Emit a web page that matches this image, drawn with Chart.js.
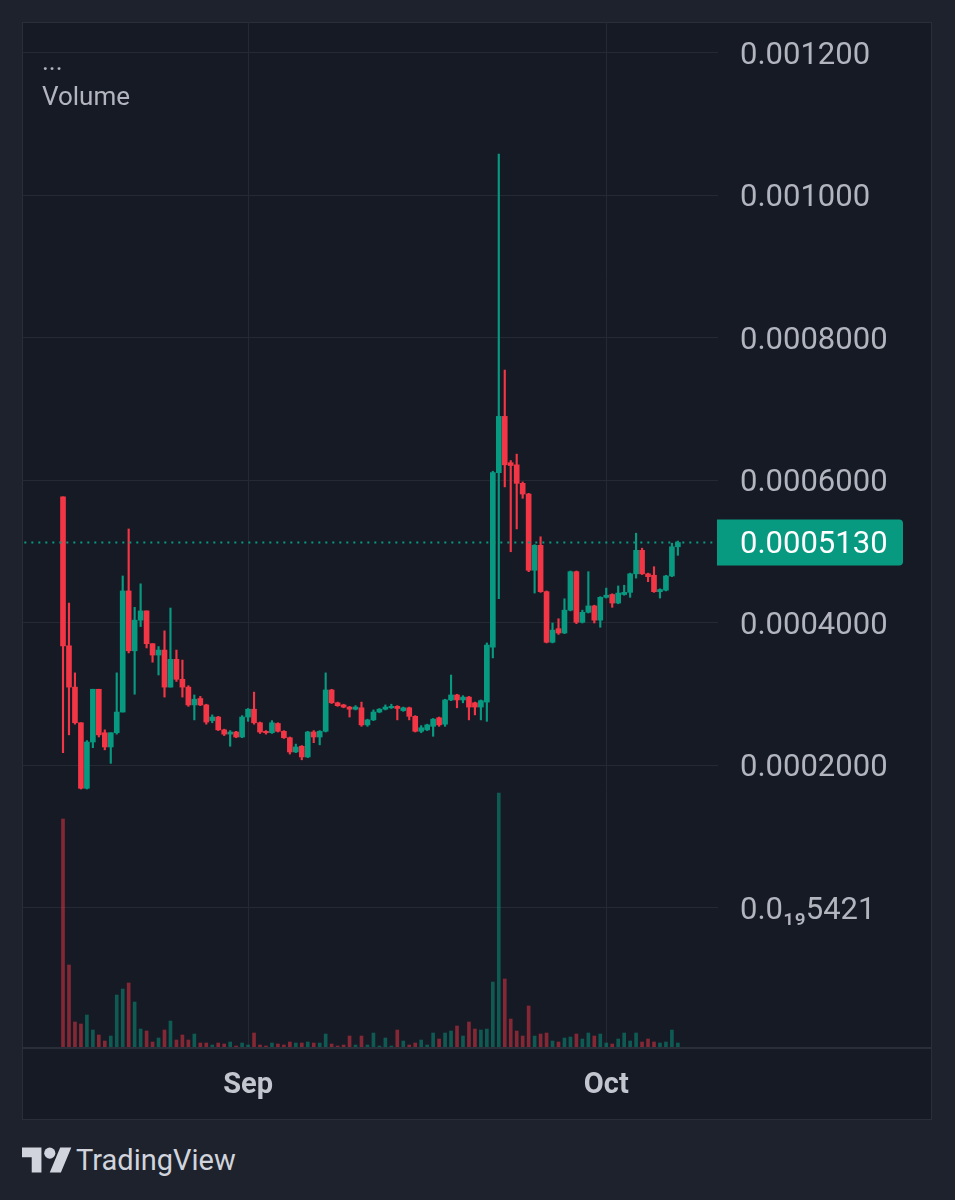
<!DOCTYPE html>
<html>
<head>
<meta charset="utf-8">
<title>Volume</title>
<script src="https://cdn.jsdelivr.net/npm/chart.js@4.4.1/dist/chart.umd.min.js"></script>
<style>
  html, body { margin: 0; padding: 0; }
  body { width: 955px; height: 1200px; background: #1e222d; position: relative; overflow: hidden; font-family: Roboto, 'Noto Sans', sans-serif; }
  #panel { position: absolute; left: 22px; top: 22px; width: 910px; height: 1098px; box-sizing: border-box; border: 1px solid #2a2e39; background: #161a25; }
  #chart-wrap { position: absolute; left: 22px; top: 22px; width: 910px; height: 1098px; }
  #sep-line { position: absolute; left: 22px; top: 1047px; width: 910px; height: 2px; background: #2a2e39; }
  #legend { position: absolute; left: 42px; top: 44px; color: #b2b5be; font-size: 26px; line-height: 35px; }
  #brand { position: absolute; left: 22px; top: 1140px; height: 40px; color: #d1d4dc; }
  #brand svg { position: absolute; left: 0; top: 2px; }
  #brand span { position: absolute; left: 54px; top: 0; font-size: 29px; line-height: 40px; white-space: nowrap; }
</style>
</head>
<body>
<div id="panel"></div>
<div id="chart-wrap"><canvas id="myChart" width="910" height="1098"></canvas></div>
<div id="sep-line"></div>
<div id="legend"><div>...</div><div>Volume</div></div>
<div id="brand">
  <svg width="50" height="39" viewBox="0 0 36 28"><path fill="#d1d4dc" d="M14 22H7V11H0V4h14v18zM28 22h-8l7.5-18h8L28 22z"/><circle fill="#d1d4dc" cx="20" cy="8" r="4"/></svg>
  <span>TradingView</span>
</div>

<script>
'use strict';

// Data (12h candles, index 0 = Aug 16 12:00)

let opens = [0.000577, 0.000368, 0.000310, 0.000260, 0.000168, 0.000233, 0.000307, 0.000246, 0.000226, 0.000246,
  0.000275, 0.000445, 0.000361, 0.000404, 0.000417, 0.000371, 0.000355, 0.000362, 0.000310, 0.000349,
  0.000321, 0.000310, 0.000285, 0.000294, 0.000285, 0.000263, 0.000268, 0.000250, 0.000244, 0.000247,
  0.000240, 0.000268, 0.000279, 0.000260, 0.000248, 0.000246, 0.000259, 0.000248, 0.000239, 0.000219,
  0.000227, 0.000212, 0.000247, 0.000240, 0.000248, 0.000306, 0.000288, 0.000285, 0.000282, 0.000279,
  0.000281, 0.000257, 0.000264, 0.000275, 0.000279, 0.000281, 0.000283, 0.000277, 0.000281, 0.000269,
  0.000248, 0.000250, 0.000255, 0.000267, 0.000258, 0.000292, 0.000299, 0.000292, 0.000296, 0.000288,
  0.000282, 0.000289, 0.000366, 0.000611, 0.000690, 0.000625, 0.000622, 0.000596, 0.000581, 0.000474,
  0.000509, 0.000444, 0.000373, 0.000392, 0.000386, 0.000418, 0.000472, 0.000401, 0.000415, 0.000424,
  0.000404, 0.000436, 0.000440, 0.000428, 0.000440, 0.000443, 0.000469, 0.000502, 0.000469, 0.000467,
  0.000444, 0.000446, 0.000466, 0.000507];

let highs = [0.000577, 0.000428, 0.000330, 0.000260, 0.000235, 0.000307, 0.000307, 0.000250, 0.000246, 0.000330,
  0.000466, 0.000532, 0.000422, 0.000455, 0.000417, 0.000371, 0.000367, 0.000389, 0.000421, 0.000362,
  0.000348, 0.000312, 0.000299, 0.000297, 0.000286, 0.000271, 0.000269, 0.000251, 0.000249, 0.000248,
  0.000270, 0.000280, 0.000303, 0.000261, 0.000249, 0.000263, 0.000260, 0.000249, 0.000240, 0.000230,
  0.000228, 0.000248, 0.000249, 0.000249, 0.000330, 0.000307, 0.000289, 0.000286, 0.000283, 0.000284,
  0.000289, 0.000265, 0.000278, 0.000280, 0.000285, 0.000286, 0.000284, 0.000282, 0.000282, 0.000270,
  0.000256, 0.000258, 0.000266, 0.000268, 0.000293, 0.000327, 0.000300, 0.000298, 0.000297, 0.000289,
  0.000292, 0.000372, 0.000613, 0.001058, 0.000755, 0.000628, 0.000637, 0.000598, 0.000582, 0.000510,
  0.000521, 0.000445, 0.000400, 0.000406, 0.000434, 0.000473, 0.000473, 0.000418, 0.000472, 0.000425,
  0.000437, 0.000449, 0.000441, 0.000452, 0.000453, 0.000470, 0.000526, 0.000505, 0.000470, 0.000479,
  0.000448, 0.000467, 0.000512, 0.000515];

let lows = [0.000218, 0.000243, 0.000258, 0.000167, 0.000167, 0.000225, 0.000240, 0.000222, 0.000203, 0.000244,
  0.000275, 0.000358, 0.000300, 0.000395, 0.000365, 0.000345, 0.000327, 0.000296, 0.000310, 0.000318,
  0.000296, 0.000283, 0.000264, 0.000284, 0.000258, 0.000260, 0.000249, 0.000242, 0.000227, 0.000239,
  0.000239, 0.000262, 0.000258, 0.000245, 0.000244, 0.000245, 0.000247, 0.000238, 0.000216, 0.000218,
  0.000208, 0.000211, 0.000232, 0.000229, 0.000247, 0.000287, 0.000283, 0.000281, 0.000268, 0.000278,
  0.000255, 0.000255, 0.000263, 0.000274, 0.000278, 0.000280, 0.000264, 0.000276, 0.000264, 0.000247,
  0.000246, 0.000249, 0.000241, 0.000255, 0.000255, 0.000291, 0.000281, 0.000288, 0.000264, 0.000271,
  0.000264, 0.000262, 0.000351, 0.000434, 0.000591, 0.000500, 0.000532, 0.000575, 0.000472, 0.000442,
  0.000443, 0.000372, 0.000372, 0.000384, 0.000385, 0.000417, 0.000399, 0.000400, 0.000414, 0.000400,
  0.000394, 0.000435, 0.000422, 0.000427, 0.000439, 0.000436, 0.000463, 0.000468, 0.000458, 0.000443,
  0.000435, 0.000445, 0.000465, 0.000495];

let closes = [0.000368, 0.000310, 0.000260, 0.000168, 0.000233, 0.000307, 0.000243, 0.000226, 0.000246, 0.000275,
  0.000445, 0.000361, 0.000404, 0.000417, 0.000371, 0.000355, 0.000362, 0.000310, 0.000349, 0.000321,
  0.000310, 0.000285, 0.000293, 0.000285, 0.000261, 0.000268, 0.000250, 0.000244, 0.000247, 0.000240,
  0.000268, 0.000279, 0.000260, 0.000247, 0.000246, 0.000260, 0.000248, 0.000239, 0.000219, 0.000226,
  0.000212, 0.000247, 0.000240, 0.000248, 0.000306, 0.000288, 0.000284, 0.000282, 0.000279, 0.000282,
  0.000257, 0.000264, 0.000275, 0.000279, 0.000282, 0.000283, 0.000280, 0.000281, 0.000269, 0.000248,
  0.000253, 0.000257, 0.000265, 0.000257, 0.000292, 0.000299, 0.000292, 0.000296, 0.000282, 0.000282,
  0.000291, 0.000369, 0.000611, 0.000690, 0.000622, 0.000621, 0.000596, 0.000581, 0.000474, 0.000509,
  0.000444, 0.000373, 0.000390, 0.000386, 0.000418, 0.000472, 0.000401, 0.000415, 0.000424, 0.000404,
  0.000436, 0.000439, 0.000428, 0.000442, 0.000443, 0.000469, 0.000502, 0.000469, 0.000465, 0.000444,
  0.000447, 0.000466, 0.000507, 0.000513];

// relative volume per candle
let volumes = [229, 83, 26, 24, 33, 18, 13, 7, 12, 53,
  59, 65, 46, 19, 17, 6, 10, 18, 27, 8,
  13, 8, 14, 5, 5, 3, 5, 4, 6, 2,
  5, 3, 15, 3, 2, 5, 4, 3, 6, 5,
  5, 6, 5, 5, 14, 4, 2, 3, 12, 3,
  12, 3, 15, 2, 10, 2, 18, 7, 3, 5,
  8, 3, 15, 9, 15, 17, 22, 12, 26, 19,
  18, 19, 66, 255, 69, 29, 17, 12, 42, 12,
  14, 15, 7, 6, 10, 11, 14, 9, 15, 12,
  14, 5, 4, 9, 15, 7, 15, 6, 9, 6,
  5, 6, 18, 5];

let priceTicks = [0, 0.0002, 0.0004, 0.0006, 0.0008, 0.001, 0.0012];
let timeTickIdx = [31, 91];
let timeTickLabels = ['Sep', 'Oct'];

// Colors

const upColor = '#089981';
const downColor = '#f23645';
const upVolColor = 'rgba(8, 153, 129, 0.5)';
const downVolColor = 'rgba(242, 54, 69, 0.5)';
const gridColor = '#252934';

//Helper Functions

function candleColors(up, down) {
  let colors = [];
  for (let i = 0; i < closes.length; i++) {
    colors.push(closes[i] >= opens[i] ? up : down);
  }
  return colors;
}

function formatPrice(value) {
  if (value === 0) {
    return '0.0\u2081\u20895421';
  }
  if (value >= 0.001) {
    return value.toFixed(6);
  }
  return value.toFixed(7);
}

let wickData = [];
let bodyData = [];
let volData = [];
for (let i = 0; i < closes.length; i++) {
  wickData.push({ x: i, y: [lows[i], highs[i]] });
  bodyData.push({ x: i, y: [opens[i], closes[i]] });
  volData.push({ x: i, y: volumes[i] });
}

let lastClose = closes[closes.length - 1];

// green tag with the last price on the price axis
const lastPriceTag = {
  id: 'lastPriceTag',
  afterDraw(chart) {
    let ctx = chart.ctx;
    let py = chart.scales.y.getPixelForValue(lastClose);
    let left = chart.chartArea.right - 1;
    ctx.save();
    ctx.fillStyle = upColor;
    ctx.beginPath();
    if (ctx.roundRect) {
      ctx.roundRect(left, py - 23, 186, 46, [0, 4, 4, 0]);
    } else {
      ctx.rect(left, py - 23, 186, 46);
    }
    ctx.fill();
    ctx.fillStyle = '#ffffff';
    ctx.font = '31px Roboto';
    ctx.textBaseline = 'middle';
    ctx.fillText(formatPrice(lastClose), chart.chartArea.right + 22, py + 3);
    ctx.restore();
  }
};

Chart.defaults.font.family = 'Roboto';

let ctx = document.getElementById('myChart').getContext('2d');
const myChart = new Chart(ctx, {
  type: 'bar',
  data: {
    datasets: [
      {
        type: 'line',
        data: [{ x: -10, y: lastClose }, { x: 120, y: lastClose }],
        borderColor: upColor,
        borderWidth: 2,
        borderDash: [2, 5],
        pointRadius: 0,
        order: 0
      },
      {
        label: 'wick',
        data: wickData,
        backgroundColor: candleColors(upColor, downColor),
        barThickness: 1.5,
        grouped: false,
        order: 2
      },
      {
        label: 'body',
        data: bodyData,
        backgroundColor: candleColors(upColor, downColor),
        barThickness: 5,
        grouped: false,
        order: 1
      },
      {
        label: 'Volume',
        data: volData,
        yAxisID: 'y2',
        backgroundColor: candleColors(upVolColor, downVolColor),
        barThickness: 3,
        grouped: false,
        order: 3
      }
    ]
  },
  options: {
    responsive: false,
    animation: false,
    devicePixelRatio: 1,
    layout: { padding: 0 },
    plugins: {
      legend: { display: false },
      tooltip: { enabled: false }
    },
    scales: {
      x: {
        type: 'linear',
        offset: false,
        min: -6.87,
        max: 109.72,
        afterBuildTicks: function(axis) {
          axis.ticks = timeTickIdx.map(v => ({ value: v }));
        },
        afterFit: function(axis) {
          axis.height = 72;
          axis.paddingLeft = 0;
          axis.paddingRight = 0;
        },
        grid: { color: gridColor, drawTicks: false, offset: false },
        border: { display: false },
        ticks: {
          autoSkip: false,
          maxRotation: 0,
          padding: 20,
          color: '#c3c6ce',
          font: { size: 29, weight: 'bold' },
          callback: function(value) {
            let k = timeTickIdx.indexOf(value);
            return k >= 0 ? timeTickLabels[k] : '';
          }
        }
      },
      y: {
        position: 'right',
        min: -0.00019649,
        max: 0.0012435,
        afterBuildTicks: function(axis) {
          axis.ticks = priceTicks.map(v => ({ value: v }));
        },
        afterFit: function(axis) {
          axis.width = 214;
          axis.paddingTop = 0;
          axis.paddingBottom = 0;
        },
        grid: { color: gridColor, drawTicks: false },
        border: { display: false },
        ticks: {
          autoSkip: false,
          padding: 22,
          labelOffset: 3,
          color: '#b2b5be',
          font: { size: 31 },
          callback: function(value) {
            return formatPrice(value);
          }
        }
      },
      y2: {
        display: false,
        min: 0,
        max: 1026
      }
    }
  },
  plugins: [lastPriceTag]
});
</script>
</body>
</html>
